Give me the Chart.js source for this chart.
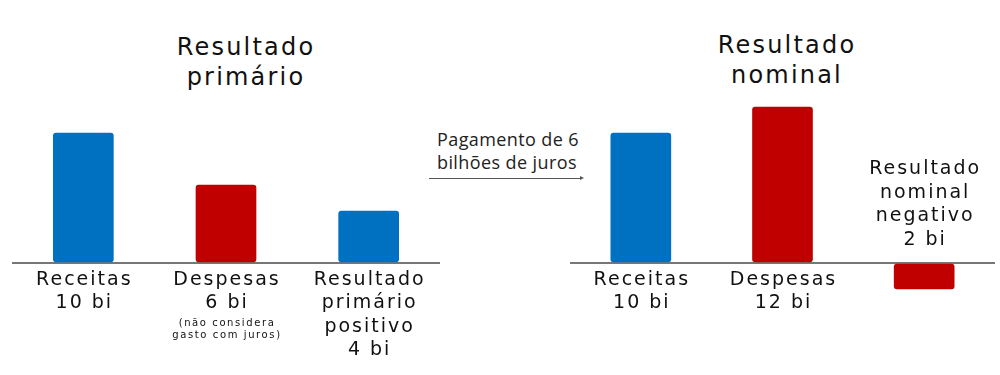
<!DOCTYPE html>
<html>
<head>
<meta charset="utf-8">
<script src="https://cdn.jsdelivr.net/npm/chart.js@4"></script>
<style>
  body { margin: 0; background: #fff; }
  #wrap { position: relative; width: 1000px; height: 375px; overflow: hidden; }
  canvas { position: absolute; top: 0; }
  .title {
    position: absolute; top: 32px; width: 260px; text-align: center;
    font: 24px "DejaVu Sans"; letter-spacing: 2.2px; line-height: 30px; color: #111;
  }
  #juros {
    position: absolute; left: 437px; top: 128px;
    font: 18px "Open Sans"; letter-spacing: 0.4px; line-height: 23px; color: #222;
  }
  #arrow { position: absolute; left: 429px; top: 178px; width: 152px; height: 1px; background: #555; }
  #arrow:after {
    content: ""; position: absolute; right: -3px; top: -2px;
    border-left: 4px solid #555; border-top: 2.5px solid transparent; border-bottom: 2.5px solid transparent;
  }
</style>
</head>
<body>
<div id="wrap">
  <div class="title" style="left:116px">Resultado<br>primário</div>
  <div class="title" style="left:657px;top:30px">Resultado<br>nominal</div>
  <div id="juros">Pagamento de 6<br>bilhões de juros</div>
  <div id="arrow"></div>
  <canvas id="chart-primario" width="460" height="375" style="left:0;width:460px;height:375px"></canvas>
  <canvas id="chart-nominal" width="440" height="375" style="left:560px;width:440px;height:375px"></canvas>
</div>
<script>
const FONT = '"DejaVu Sans"';
const BLUE = "#0070C0";
const RED = "#C00000";

// resultado primario
const primarioLabels = [["Receitas", "10 bi"], ["Despesas", "6 bi"], ["Resultado", "primário", "positivo", "4 bi"]];
const primarioValues = [10, 6, 4];
const primarioNotes = [null, ["(não considera", "gasto com juros)"], null];
const primarioColors = [BLUE, RED, BLUE];

// resultado nominal
const nominalLabels = [["Receitas", "10 bi"], ["Despesas", "12 bi"], ["Resultado", "nominal", "negativo", "2 bi"]];
const nominalValues = [10, 12, -2];
const nominalColors = [BLUE, RED, RED];

const barLabels = {
  id: "barLabels",
  afterDatasetsDraw(chart, args, opts) {
    const ctx = chart.ctx;
    const meta = chart.getDatasetMeta(0);
    const values = chart.data.datasets[0].data;
    ctx.save();
    ctx.fillStyle = "#111";
    ctx.textAlign = "center";
    ctx.textBaseline = "middle";
    meta.data.forEach((bar, i) => {
      const lines = chart.data.labels[i];
      ctx.font = "19px " + FONT;
      ctx.letterSpacing = "2px";
      if (values[i] >= 0) {
        lines.forEach((t, j) => ctx.fillText(t, bar.x + 1, bar.base + 18 + j * 23.5));
        const note = opts.notes && opts.notes[i];
        if (note) {
          ctx.font = "10px " + FONT;
          ctx.letterSpacing = "1.6px";
          const top = bar.base + 18 + lines.length * 23.5 - 4;
          note.forEach((t, j) => ctx.fillText(t, bar.x + 1, top + j * 12));
        }
      } else {
        const n = lines.length;
        lines.forEach((t, j) => ctx.fillText(t, bar.x + 1, bar.base - 24 - (n - 1 - j) * 23.7));
      }
    });
    ctx.restore();
  }
};

const renderChart = (pId, pLabels, pData, pColors, pNotes, pPadding) => {
  return new Chart(document.getElementById(pId), {
    type: "bar",
    data: {
      labels: pLabels,
      datasets: [
        {
          data: pData,
          backgroundColor: pColors,
          barThickness: 60,
          borderRadius: 3,
          borderSkipped: false,
        },
      ],
    },
    options: {
      responsive: false,
      animation: false,
      layout: { padding: pPadding },
      plugins: {
        legend: { display: false },
        tooltip: { enabled: false },
        barLabels: { notes: pNotes },
      },
      scales: {
        x: { display: false },
        y: {
          min: -8,
          max: 13,
          ticks: { display: false, stepSize: 1 },
          border: { display: false },
          grid: {
            drawTicks: false,
            tickLength: 0,
            lineWidth: 2,
            color: (c) => (c.tick && c.tick.value === 0 ? "#777" : "rgba(0,0,0,0)"),
          },
        },
      },
    },
    plugins: [barLabels],
  });
};

renderChart("chart-primario", primarioLabels, primarioValues, primarioColors, primarioNotes,
  { left: 12, right: 20, top: 94, bottom: 8 });
renderChart("chart-nominal", nominalLabels, nominalValues, nominalColors, null,
  { left: 10, right: 5, top: 94, bottom: 8 });
</script>
</body>
</html>
